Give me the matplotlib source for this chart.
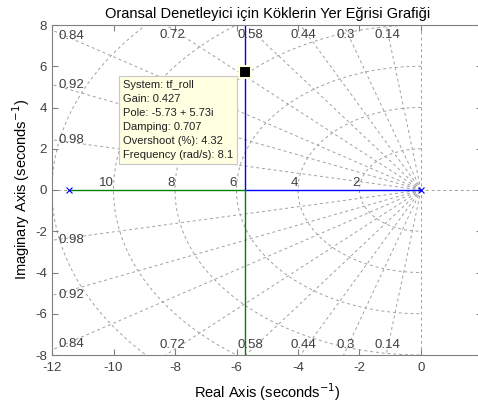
import numpy as np
import matplotlib
matplotlib.use('Agg')
import matplotlib.pyplot as plt

plt.rcParams['font.family'] = ['Liberation Sans', 'DejaVu Sans']

# open-loop poles of tf_roll
pole_re = [0, -11.46]
pole_im = [0, 0]

# locus branches (breakaway at -5.73, then vertical)
branch1_re = [0, -5.73, -5.73]
branch1_im = [0, 0, 9]
branch2_re = [-11.46, -5.73, -5.73]
branch2_im = [0, 0, -9]

# sgrid
zetas = [0.14, 0.3, 0.44, 0.58, 0.72, 0.84, 0.92, 0.98]
zeta_lbl = ['0.14', '0.3', '0.44', '0.58', '0.72', '0.84', '0.92', '0.98']
wns = [2, 4, 6, 8, 10, 12]
wn_lbl = ['2', '4', '6', '8', '10', '']

# data tip
tip_re = -5.73
tip_im = 5.73
tip_text = ['System: tf_roll', 'Gain: 0.427', 'Pole: -5.73 + 5.73i',
            'Damping: 0.707', 'Overshoot (%): 4.32', 'Frequency (rad/s): 8.1']

xmin, xmax = -12, 2
ymin, ymax = -8, 8

fig = plt.figure(figsize=(4.78, 4.03), dpi=100)
ax = fig.add_axes([52/478, 48/403, 430.5/478, 330/403])

gridc = '#a0a0a0'
txtc = '#404040'
dash = dict(color=gridc, lw=0.7, ls=(0, (3, 3)), zorder=1)

# locus
ax.plot(branch1_re, branch1_im, color='#0000ff', lw=1.0, zorder=2)
ax.plot(branch2_re, branch2_im, color='#008000', lw=1.0, zorder=2)
ax.plot(pole_re, pole_im, 'x', color='#0000ff', ms=5, mew=0.8, zorder=3)

# damping rays
r = np.array([0, 30])
for z in zetas:
    s = np.sqrt(1 - z**2)
    ax.plot(-r*z, r*s, **dash)
    ax.plot(-r*z, -r*s, **dash)
ax.plot([0, 0], [ymin, ymax], **dash)
ax.plot([xmin, xmax], [0, 0], **dash)

# wn circles
th = np.linspace(np.pi/2, 3*np.pi/2, 300)
for w in wns:
    ax.plot(w*np.cos(th), w*np.sin(th), **dash)

# labels for damping
for z, lbl in zip(zetas, zeta_lbl):
    s = np.sqrt(1 - z**2)
    yl = 12*s/z
    if yl < 7.8:
        yv = min(yl, 7.45)
        for sg in (1, -1):
            ax.text(xmin+0.2, sg*yv, lbl, ha='left', va='center',
                    fontsize=9.5, color=txtc, zorder=4)
    else:
        xv = -7.8*z/s
        ax.text(xv, 7.8, lbl, ha='center', va='top', fontsize=9.5, color=txtc, zorder=4)
        ax.text(xv, -7.8, lbl, ha='center', va='bottom', fontsize=9.5, color=txtc, zorder=4)

# labels for wn
for w, lbl in zip(wns, wn_lbl):
    ax.text(-w, 0.05, lbl, ha='right', va='bottom', fontsize=9.5, color=txtc, zorder=4)

# data tip
ax.plot([tip_re], [tip_im], 's', color='black', ms=9, mec='#ffffe0', mew=1.5, zorder=6)
ax.annotate('\n'.join(tip_text), xy=(tip_re, tip_im), xytext=(-8.5, -6),
            textcoords='offset points', ha='right', va='top', multialignment='left',
            fontsize=8, linespacing=1.5, color='#202020', zorder=5,
            bbox=dict(boxstyle='square,pad=0.35', fc='#ffffe1', ec='#c8c8c8', lw=0.8))

ax.set_xlim(xmin, xmax)
ax.set_ylim(ymin, ymax)
ax.set_xticks([-12, -10, -8, -6, -4, -2, 0])
ax.set_yticks([-8, -6, -4, -2, 0, 2, 4, 6, 8])
ax.set_xticklabels(['-12', '-10', '-8', '-6', '-4', '-2', '0'])
ax.set_yticklabels(['-8', '-6', '-4', '-2', '0', '2', '4', '6', '8'])
ax.tick_params(direction='in', length=4, top=True, right=True, colors='#808080',
               labelcolor=txtc, labelsize=9.5, width=0.8)
ax.tick_params(axis='x', pad=5)
for sp in ax.spines.values():
    sp.set_color('#808080')
    sp.set_linewidth(0.8)

ax.set_title('Oransal Denetleyici için Köklerin Yer Eğrisi Grafiği', fontsize=10.5, pad=5)
ax.set_xlabel('Real Axis (seconds$^{-1}$)', fontsize=10.5, labelpad=5)
ax.set_ylabel('Imaginary Axis (seconds$^{-1}$)', fontsize=10.5, labelpad=2)

fig.savefig('out.png', dpi=100)
